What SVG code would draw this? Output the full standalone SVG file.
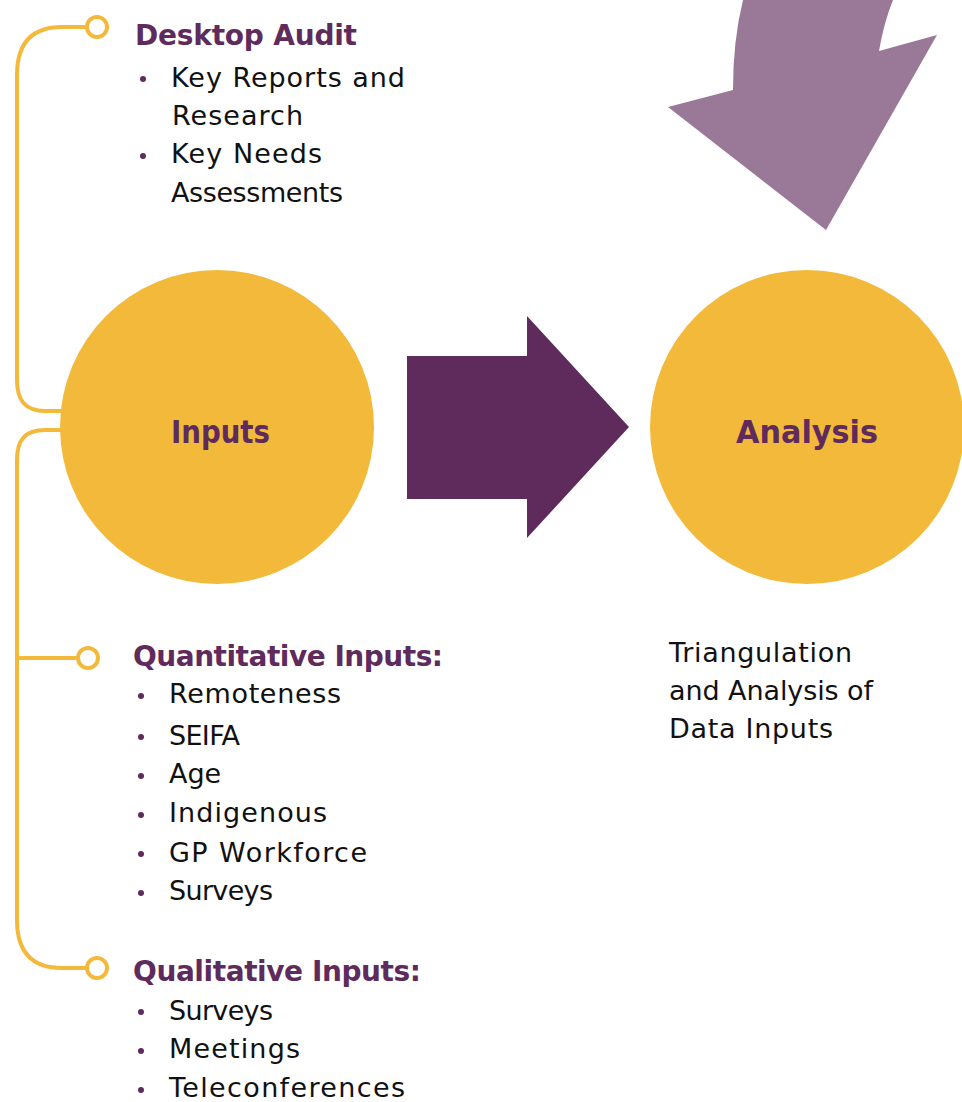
<svg xmlns="http://www.w3.org/2000/svg" width="962" height="1102" viewBox="0 0 962 1102">
  <style>
    .head { font-family: "DejaVu Sans", sans-serif; font-weight: bold; font-size: 28px; fill: #5E2B5C; }
    .big { font-family: "DejaVu Sans", sans-serif; font-weight: bold; font-size: 32px; fill: #5E2B5C; }
    .item { font-family: "DejaVu Sans", sans-serif; font-size: 27px; fill: #111111; }
    .dot { fill: #5E2B5C; }
    .wire { fill: none; stroke: #F2B93B; stroke-width: 4; }
    .knob { fill: #FFFFFF; stroke: #F2B93B; stroke-width: 4; }
    .disc { fill: #F2B93B; }
  </style>
  <rect width="962" height="1102" fill="#FFFFFF"/>

  <!-- connectors: the yellow bracket that links the input lists to the Inputs circle -->
  <g id="connectors">
    <path class="wire" d="M 86 27 L 62 27 C 30 27 17 45 17 75 L 17 380 C 17 400 25 411 45 411 L 62 411"/>
    <path class="wire" d="M 62 430 L 45 430 C 25 430 17 440 17 460 L 17 920 C 17 950 30 968 62 968 L 86 968"/>
    <path class="wire" d="M 17 658 L 77 658"/>
    <circle class="knob" cx="97" cy="27" r="10"/>
    <circle class="knob" cx="88" cy="658" r="10"/>
    <circle class="knob" cx="97" cy="968" r="10"/>
    <!-- block arrow from Inputs to Analysis -->
    <polygon points="407,356 527,356 527,316 629,427 527,538 527,499 407,499" fill="#5E2B5C"/>
    <!-- curved arrow coming in from the top -->
    <path d="M 743 0 Q 733 40 733 90 L 668 107 L 826 230 L 937 35 L 879 51 Q 884 22 893 0 Z" fill="#9A7897"/>
  </g>

  <g id="inputs">
    <circle class="disc" cx="217" cy="427" r="157"/>
    <text class="big" x="171" y="443" textLength="99" lengthAdjust="spacingAndGlyphs">Inputs</text>
  </g>

  <g id="analysis">
    <circle class="disc" cx="807" cy="427" r="157"/>
    <text class="big" x="736" y="443" textLength="142" lengthAdjust="spacingAndGlyphs">Analysis</text>
  </g>

  <g id="desktop-audit">
    <text class="head" x="135" y="45" textLength="222">Desktop Audit</text>
    <circle class="dot" cx="143" cy="79" r="3"/>
    <text class="item" x="171" y="87" textLength="234">Key Reports and</text>
    <text class="item" x="172" y="125" textLength="131">Research</text>
    <circle class="dot" cx="143" cy="156" r="3"/>
    <text class="item" x="171" y="163" textLength="151">Key Needs</text>
    <text class="item" x="171" y="202" textLength="172">Assessments</text>
  </g>

  <g id="quantitative-inputs">
    <text class="head" x="133" y="666" textLength="310">Quantitative Inputs:</text>
    <circle class="dot" cx="141" cy="696" r="3"/>
    <text class="item" x="169" y="703" textLength="172">Remoteness</text>
    <circle class="dot" cx="141" cy="737" r="3"/>
    <text class="item" x="169" y="745" textLength="71">SEIFA</text>
    <circle class="dot" cx="141" cy="776" r="3"/>
    <text class="item" x="169" y="783">Age</text>
    <circle class="dot" cx="141" cy="815" r="3"/>
    <text class="item" x="169" y="822" textLength="158">Indigenous</text>
    <circle class="dot" cx="141" cy="854" r="3"/>
    <text class="item" x="169" y="862" textLength="198">GP Workforce</text>
    <circle class="dot" cx="141" cy="893" r="3"/>
    <text class="item" x="169" y="900" textLength="104">Surveys</text>
  </g>

  <g id="qualitative-inputs">
    <text class="head" x="133" y="981" textLength="288">Qualitative Inputs:</text>
    <circle class="dot" cx="141" cy="1012" r="3"/>
    <text class="item" x="169" y="1020" textLength="104">Surveys</text>
    <circle class="dot" cx="141" cy="1051" r="3"/>
    <text class="item" x="169" y="1058" textLength="131">Meetings</text>
    <circle class="dot" cx="141" cy="1090" r="3"/>
    <text class="item" x="169" y="1097" textLength="236">Teleconferences</text>
  </g>

  <g id="analysis-note">
    <text class="item" x="669" y="662" textLength="183">Triangulation</text>
    <text class="item" x="669" y="700" textLength="204">and Analysis of</text>
    <text class="item" x="669" y="738" textLength="164">Data Inputs</text>
  </g>
</svg>
